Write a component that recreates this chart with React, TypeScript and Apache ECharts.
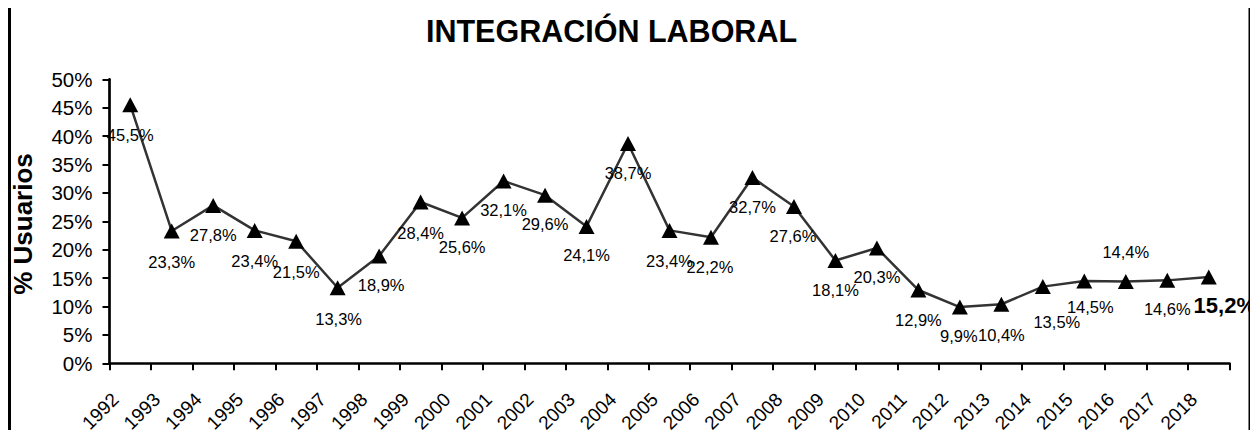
import React, { useEffect, useRef } from "react";
import * as echarts from "echarts";

const years = [
  "1992", "1993", "1994", "1995", "1996", "1997", "1998", "1999", "2000",
  "2001", "2002", "2003", "2004", "2005", "2006", "2007", "2008", "2009",
  "2010", "2011", "2012", "2013", "2014", "2015", "2016", "2017", "2018",
];

const usuarios = [
  45.5, 23.3, 27.8, 23.4, 21.5, 13.3, 18.9, 28.4, 25.6, 32.1, 29.6, 24.1,
  38.7, 23.4, 22.2, 32.7, 27.6, 18.1, 20.3, 12.9, 9.9, 10.4, 13.5, 14.5,
  14.4, 14.6, 15.2,
];

const yTicks = [0, 5, 10, 15, 20, 25, 30, 35, 40, 45, 50];

// label placement (dx, dy) relative to each point
const labelOffsets: [number, number][] = [
  [0, 30], [0, 31], [0, 30], [0, 31], [0, 31], [1, 31], [2, 29], [0, 31],
  [0, 29], [0, 29], [0, 29], [0, 29], [0, 30], [0, 31], [-1, 30], [0, 29],
  [-1, 29], [0, 30], [0, 29], [0, 30], [-1, 29], [0, 31], [14, 35], [6, 26],
  [0, -30], [0, 29], [16, 29],
];

const FONT = "Arial";
const NBSP4 = "\u00a0\u00a0\u00a0\u00a0";

const fmt = (v: number) => v.toFixed(1).replace(".", ",") + "%";

export default function App() {
  const ref = useRef<HTMLDivElement>(null);
  useEffect(() => {
    if (!ref.current) return;
    const chart = echarts.init(ref.current, undefined, { renderer: "svg" });
    const last = usuarios.length - 1;
    const data = usuarios.map((v, i) => ({
      value: v,
      label: {
        show: true,
        position: "inside",
        offset: labelOffsets[i],
        formatter: fmt(v),
        color: "#000",
        fontFamily: FONT,
        fontSize: i === last ? 22 : 16.5,
        fontWeight: i === last ? "bold" : "normal",
      },
    }));
    chart.setOption({
      animation: false,
      backgroundColor: "#fff",
      textStyle: { fontFamily: FONT },
      grid: {
        left: 109.5,
        right: 28.5,
        top: 79.3,
        bottom: 74.7,
        containLabel: false,
        outerBoundsMode: "none",
      },
      graphic: [
        { type: "rect", shape: { x: 8, y: 0, width: 3, height: 438 }, style: { fill: "#000" } },
        { type: "rect", shape: { x: 1248.5, y: 0, width: 3, height: 438 }, style: { fill: "#000" } },
        {
          type: "text",
          x: 611.5,
          y: 30.5,
          style: {
            text: "INTEGRACIÓN LABORAL",
            fontFamily: FONT,
            fontSize: 30.5,
            fontWeight: "bold",
            fill: "#000",
            align: "center",
            verticalAlign: "middle",
          },
        },
        {
          type: "text",
          x: 23,
          y: 224,
          rotation: Math.PI / 2,
          style: {
            text: "% Usuarios",
            fontFamily: FONT,
            fontSize: 26,
            fontWeight: "bold",
            fill: "#000",
            align: "center",
            verticalAlign: "middle",
          },
        },
      ],
      xAxis: {
        type: "category",
        data: years,
        boundaryGap: true,
        axisLine: { show: true, lineStyle: { color: "#000", width: 2.7 } },
        axisTick: { show: true, length: 7, lineStyle: { color: "#000", width: 2 } },
        axisLabel: {
          interval: 0,
          rotate: 45,
          margin: 18,
          color: "#000",
          fontFamily: FONT,
          fontSize: 19,
          formatter: (v: string) => v + NBSP4,
        },
        splitLine: { show: false },
      },
      yAxis: {
        type: "value",
        min: yTicks[0],
        max: yTicks[yTicks.length - 1],
        interval: yTicks[1] - yTicks[0],
        axisLine: { show: true, lineStyle: { color: "#000", width: 2.7 } },
        axisTick: { show: true, length: 7, lineStyle: { color: "#000", width: 2 } },
        axisLabel: {
          margin: 17,
          color: "#000",
          fontFamily: FONT,
          fontSize: 20.5,
          formatter: (v: number) => `${v}%`,
        },
        splitLine: { show: false },
      },
      series: [
        {
          type: "line",
          data,
          symbol: "triangle",
          symbolSize: [16, 15],
          itemStyle: { color: "#000" },
          lineStyle: { color: "#333", width: 2.5 },
          z: 3,
        },
      ],
    });
    return () => chart.dispose();
  }, []);
  return (
    <div
      ref={ref}
      style={{ width: 1258, height: 438, margin: -8, position: "relative" }}
    />
  );
}
